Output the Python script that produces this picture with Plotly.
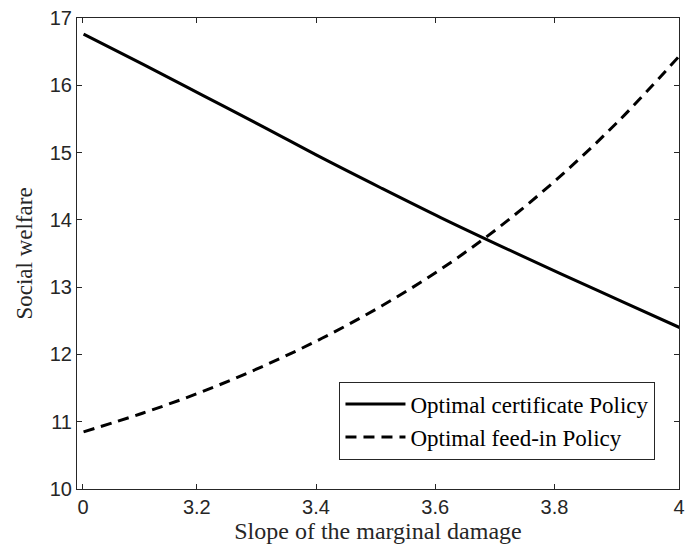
import plotly.graph_objects as go

x_vals = [3.01, 3.11, 3.21, 3.31, 3.41, 3.51, 3.61, 3.71, 3.81, 3.91, 4.01]
certificate = [16.76, 16.31, 15.85, 15.39, 14.92, 14.47, 14.03, 13.61, 13.20, 12.80, 12.40]
feed_in = [10.85, 11.13, 11.45, 11.82, 12.24, 12.72, 13.27, 13.91, 14.65, 15.49, 16.44]

x_tickvals = [3.009, 3.2, 3.4, 3.6, 3.8, 4.009]
x_ticktext = ["0", "3.2", "3.4", "3.6", "3.8", "4"]
y_tickvals = [10, 11, 12, 13, 14, 15, 16, 17]

serif = "Liberation Serif, DejaVu Serif, serif"
sans = "Liberation Sans, Arial, sans-serif"

fig = go.Figure()
fig.add_trace(go.Scatter(x=x_vals, y=certificate, mode="lines", line_shape="spline",
                         name="Optimal certificate Policy",
                         line=dict(color="black", width=3)))
fig.add_trace(go.Scatter(x=x_vals, y=feed_in, mode="lines", line_shape="spline",
                         name="Optimal feed-in Policy",
                         line=dict(color="black", width=3, dash="11px,7px")))

axis_common = dict(showline=True, linecolor="#262626", linewidth=1, mirror="ticks",
                   ticks="inside", ticklen=5, tickcolor="#262626", showgrid=False,
                   zeroline=False, tickfont=dict(family=sans, size=20, color="#262626"))

fig.update_xaxes(range=[2.999, 4.009], tickvals=x_tickvals, ticktext=x_ticktext,
                 title=dict(text="Slope of the marginal damage",
                            font=dict(family=serif, size=24, color="#262626"), standoff=2),
                 **axis_common)
fig.update_yaxes(range=[10, 17], tickvals=y_tickvals,
                 title=dict(text="Social welfare",
                            font=dict(family=serif, size=23, color="#262626"), standoff=10),
                 **axis_common)

fig.update_layout(
    width=692, height=556,
    margin=dict(l=77, r=7, t=16, b=67),
    paper_bgcolor="white", plot_bgcolor="white",
    legend=dict(x=0.436, y=0.228, xanchor="left", yanchor="top",
                bgcolor="white", bordercolor="#262626", borderwidth=1,
                font=dict(family=serif, size=23, color="black"),
                tracegroupgap=0, itemwidth=60),
    showlegend=True,
)

fig.write_html("out.html", config={"displayModeBar": False},
               post_script="document.body.style.margin='0';document.body.style.overflow='hidden';")
